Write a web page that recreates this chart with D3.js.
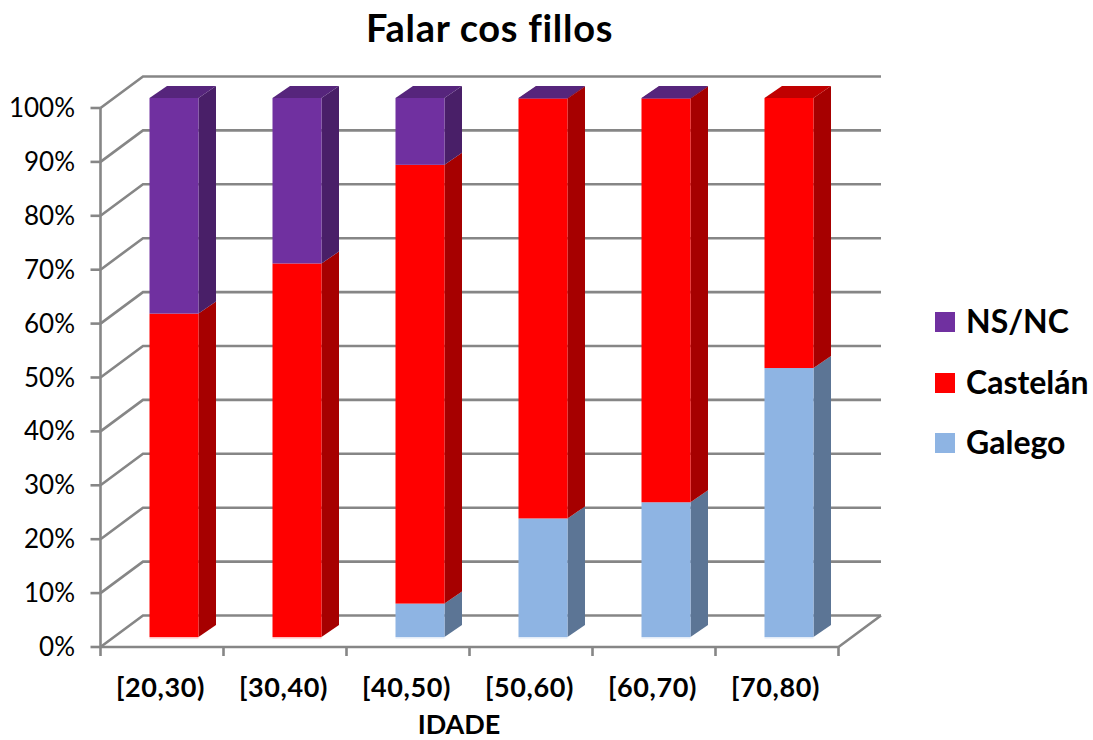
<!DOCTYPE html>
<html><head><meta charset="utf-8">
<script src="https://cdn.jsdelivr.net/npm/d3@7/dist/d3.min.js"></script>
<style>html,body{margin:0;background:#fff}svg{display:block}text{font-family:"Lato",sans-serif;fill:#000;font-variant-ligatures:none}</style>
</head><body><div id="c"></div>
<script>
const categories=["[20,30)","[30,40)","[40,50)","[50,60)","[60,70)","[70,80)"];
const galego=[0,0,6.2,22,25,49.9];
const castelan=[60,69.3,81.4,77.9,74.9,50.1];
const nsnc=[40,30.7,12.4,0.1,0.1,0];
const seriesNames=["Galego","Castelán","NS/NC"];
const frontColors=["#8eb4e3","#ff0000","#7030a0"];
const sideColors=["#5c7595","#a60000","#491f68"];
const topColors=["#6f8eb5","#c00000","#56257c"];
const tickLabels=["0%","10%","20%","30%","40%","50%","60%","70%","80%","90%","100%"];
const tickValues=d3.range(0,101,10);

const svg=d3.select("#c").append("svg").attr("width",1093).attr("height",740);
const x=d3.scaleBand().domain(categories).range([100.5,838.5]);
const y=d3.scaleLinear().domain([0,100]).range([647,108]);
const wallDx=42.5,wallDy=-31.5,barDx=17.5,barDy=-12,barInX=49,barInY=-10,barW=49;
const grid="#868686";
const gridG=svg.append("g").attr("fill","none").attr("stroke",grid).attr("stroke-width",2.6);
tickValues.forEach(v=>{
  const yy=y(v);
  gridG.append("path").attr("d",`M${x.range()[0]},${yy}L${x.range()[0]+wallDx},${yy+wallDy}L${x.range()[1]+wallDx},${yy+wallDy}`);
  gridG.append("path").attr("d",`M${x.range()[0]-10},${yy}L${x.range()[0]},${yy}`);
});
gridG.append("path").attr("d",`M${x.range()[0]},${y(100)}V${y(0)}H${x.range()[1]}L${x.range()[1]+wallDx},${y(0)+wallDy}`);
const ticksX=d3.range(0,7).map(i=>x.range()[0]+i*x.step());
ticksX.forEach(t=>gridG.append("path").attr("d",`M${t},${y(0)}v9`));

const bars=svg.append("g");
categories.forEach((c,i)=>{
  const x0=x(c)+barInX; let cum=0;
  [galego,castelan,nsnc].forEach((s,si)=>{
    const v=s[i]; if(v<=0)return;
    const yb=y(cum)+barInY, yt=y(cum+v)+barInY;
    if(cum===0) bars.append("rect").attr("x",x0).attr("y",yb).attr("width",barW).attr("height",1.5).attr("fill",frontColors[si]).attr("opacity",0.25);
    cum+=v;
    bars.append("path").attr("fill",sideColors[si]).attr("d",`M${x0+barW},${yt}L${x0+barW+barDx},${yt+barDy}V${yb+barDy}L${x0+barW},${yb}Z`);
    bars.append("rect").attr("x",x0).attr("y",yt).attr("width",barW).attr("height",yb-yt).attr("fill",frontColors[si]);
    if(cum>=99.9) bars.append("path").attr("fill",topColors[si]).attr("d",`M${x0},${yt}L${x0+barDx},${yt+barDy}H${x0+barW+barDx}L${x0+barW},${yt}Z`);
  });
});

svg.append("g").selectAll("text").data(tickLabels).join("text")
  .attr("x",75).attr("y",(d,i)=>y(tickValues[i])+9).attr("text-anchor","end")
  .attr("font-size",26).attr("font-weight",400).text(d=>d);
svg.append("g").selectAll("text").data(categories).join("text")
  .attr("x",d=>x(d)+x.bandwidth()/2-1.5).attr("y",697).attr("text-anchor","middle")
  .attr("font-size",27).attr("letter-spacing",0.6).attr("font-weight",700).text(d=>d);
svg.append("text").attr("x",459).attr("y",734).attr("text-anchor","middle").attr("font-size",27).attr("font-weight",700).text("IDADE");
svg.append("text").attr("x",489.5).attr("y",42).attr("text-anchor","middle").attr("font-size",38).attr("letter-spacing",0.7).attr("font-weight",700).text("Falar cos fillos");
const legendY=[443,383,322];
seriesNames.forEach((n,i)=>{
  svg.append("rect").attr("x",935).attr("y",legendY[i]-10).attr("width",20).attr("height",20).attr("fill",frontColors[i]);
  svg.append("text").attr("x",966).attr("y",legendY[i]+10.5).attr("font-size",32).attr("font-weight",700).text(n);
});
</script></body></html>
